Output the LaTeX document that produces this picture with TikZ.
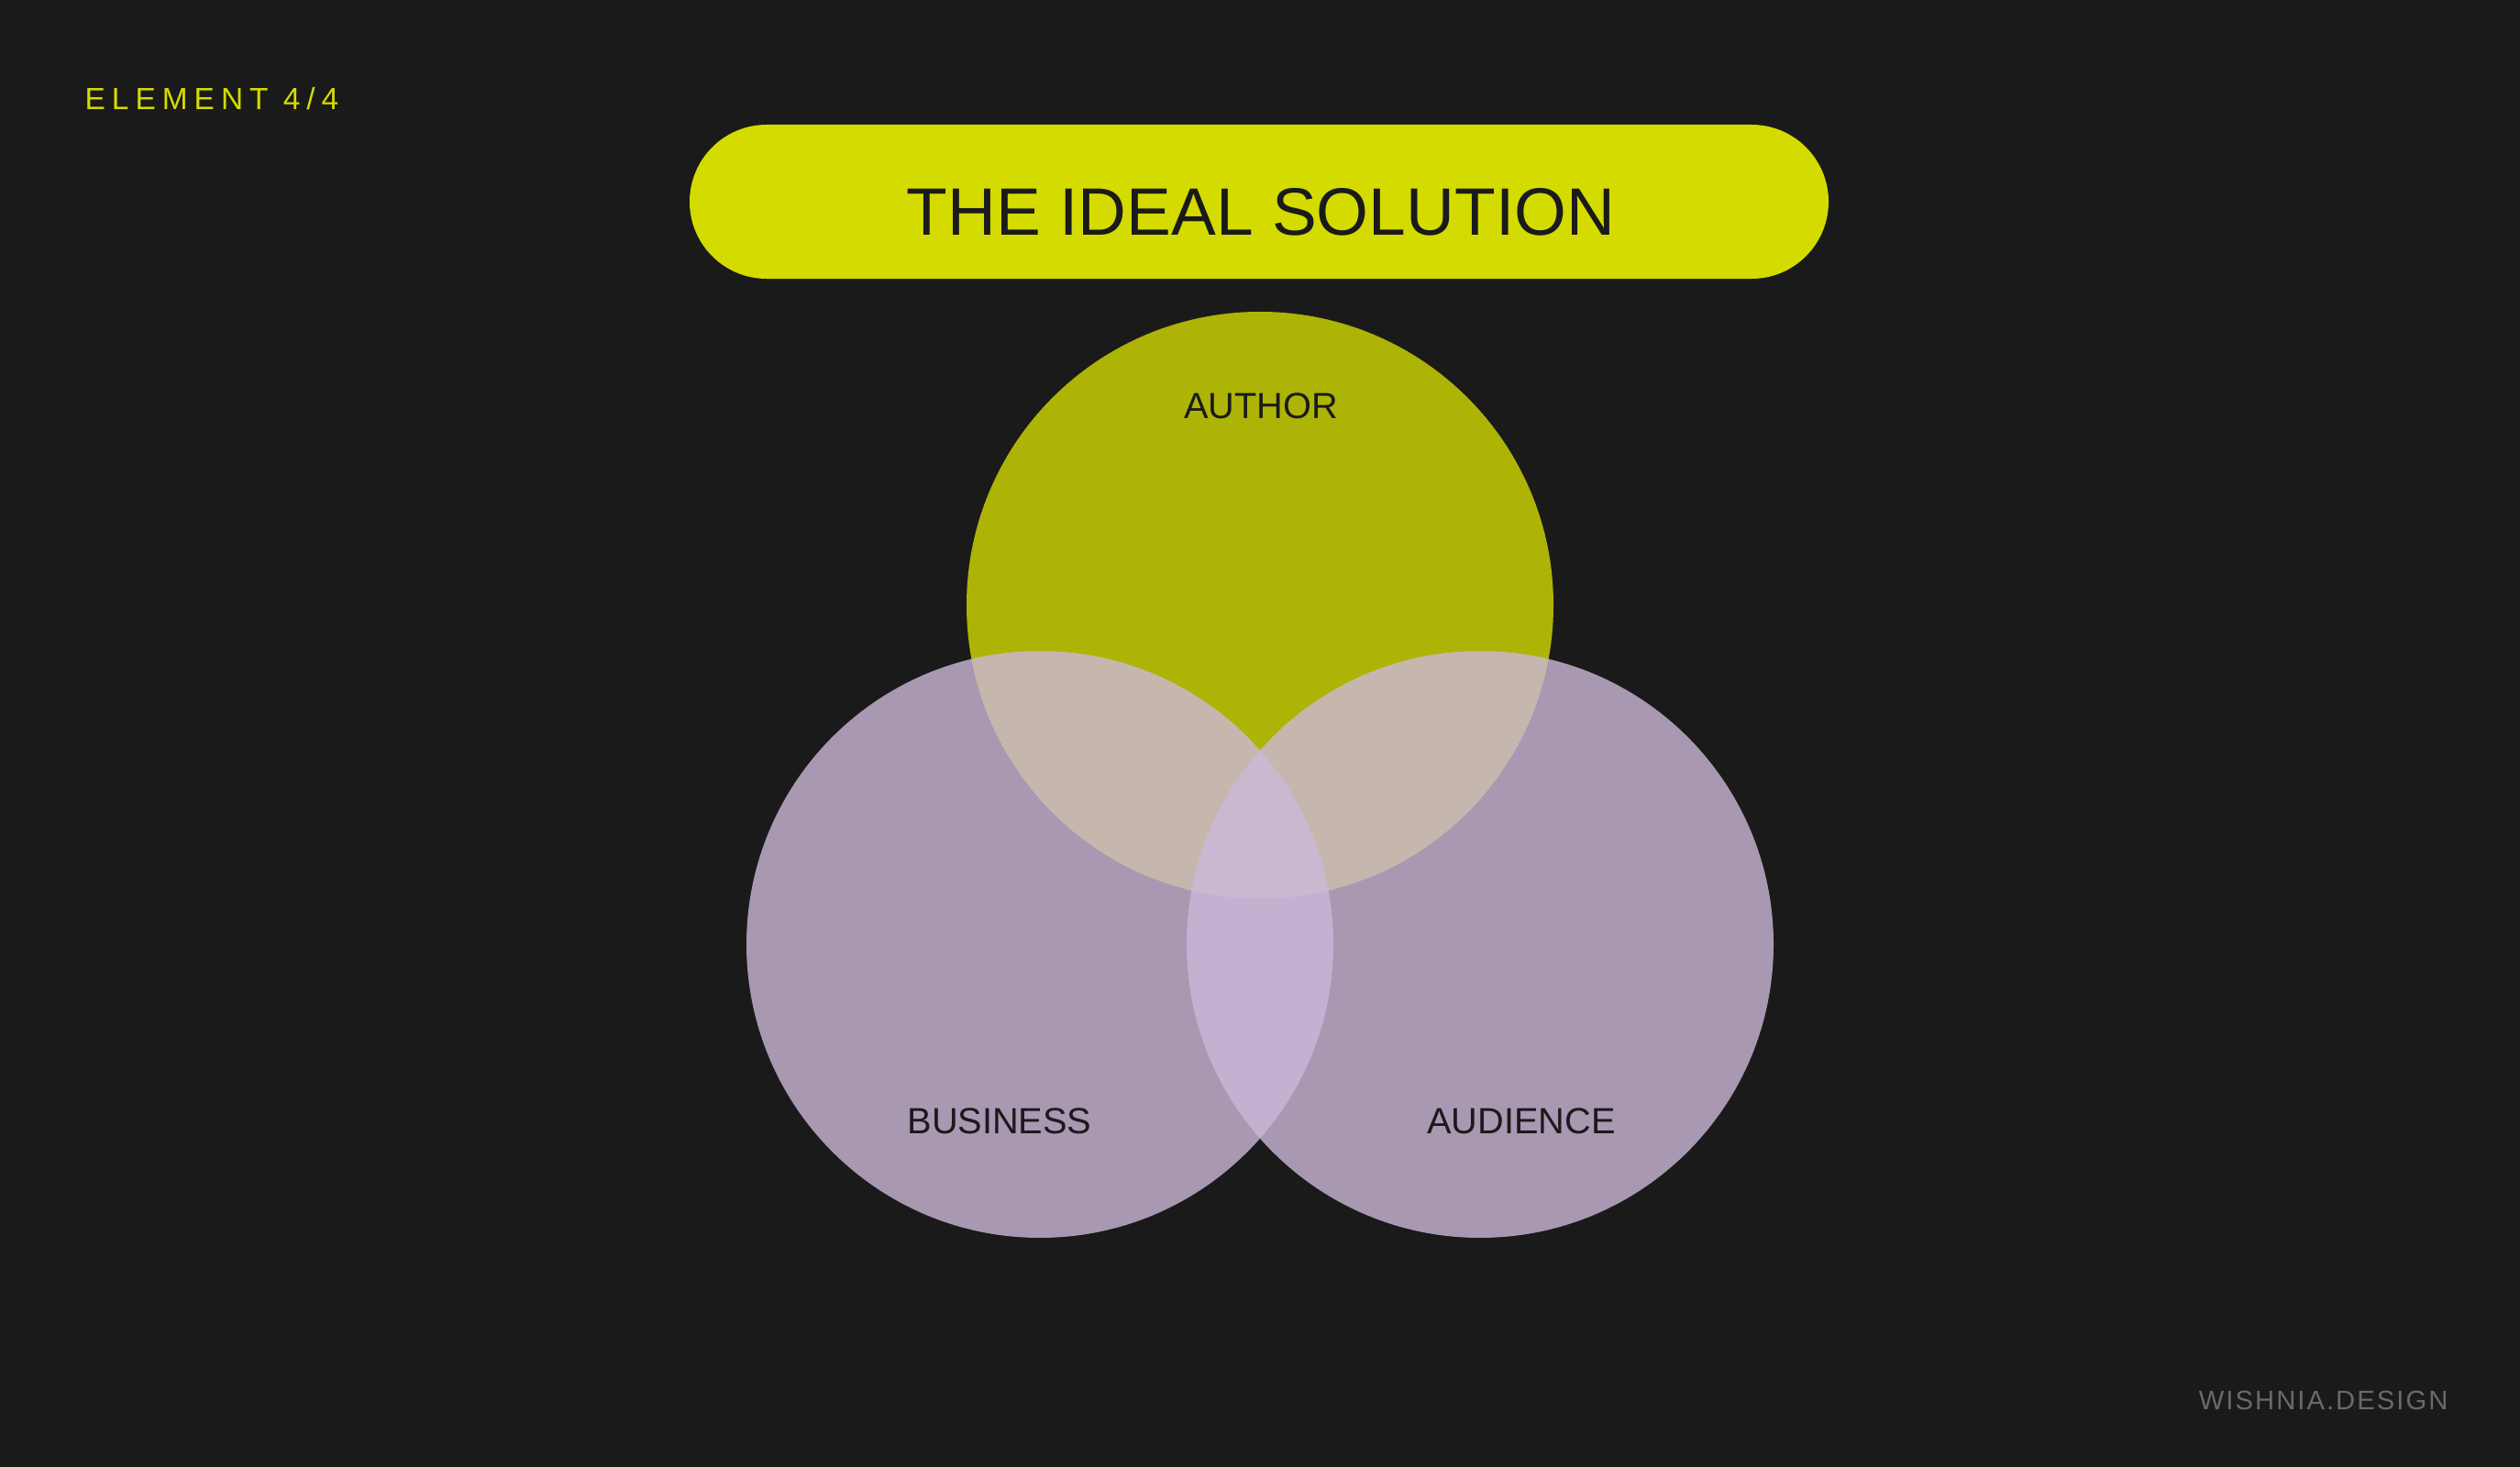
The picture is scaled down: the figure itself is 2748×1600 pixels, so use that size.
\documentclass[tikz,border=0pt]{standalone}
\usepackage{fontspec}
\setmainfont{Liberation Sans}
\newfontfamily\tagfont[LetterSpace=21]{Liberation Sans}
\newfontfamily\markfont[LetterSpace=7]{Liberation Sans}
\definecolor{bgdark}{HTML}{1A1A1A}
\definecolor{lime}{HTML}{D4DB00}
\definecolor{lilac}{HTML}{CCB8D9}
\definecolor{markgray}{HTML}{6A6A6A}
\begin{document}
\begin{tikzpicture}[x=0.01cm,y=-0.01cm,
  label/.style={anchor=base,inner sep=0pt,text=bgdark,font=\fontsize{11.3}{13}\selectfont}]
		\fill[bgdark] (0,0) rectangle (2748,1600);
		\useasboundingbox (0,0) rectangle (2748,1600);
		% header
		\node[anchor=base west,inner sep=0pt,text=lime,font=\tagfont\fontsize{9.5}{11}\selectfont] (tag) at (92,120) {ELEMENT 4/4};
		\fill[lime,rounded corners=0.84cm] (752,136) rectangle (1994,304);
		\node[anchor=base,inner sep=0pt,text=bgdark,font=\fontsize{20.8}{25}\selectfont] (title) at (1375,257) {THE IDEAL SOLUTION};
		% venn
		\fill[lime,fill opacity=0.8] (1374,660) circle (320);
		\fill[lilac,fill opacity=0.8] (1134,1030) circle (320);
		\fill[lilac,fill opacity=0.8] (1614,1030) circle (320);
		\node[label] (author) at (1375,456) {AUTHOR};
		\node[label] (business) at (1090,1236) {BUSINESS};
		\node[label] (audience) at (1659,1236) {AUDIENCE};
		% footer
		\node[anchor=base east,inner sep=0pt,text=markgray,font=\markfont\fontsize{8.3}{10}\selectfont] (mark) at (2670,1537) {WISHNIA.DESIGN};
		\end{tikzpicture}
\end{document}
